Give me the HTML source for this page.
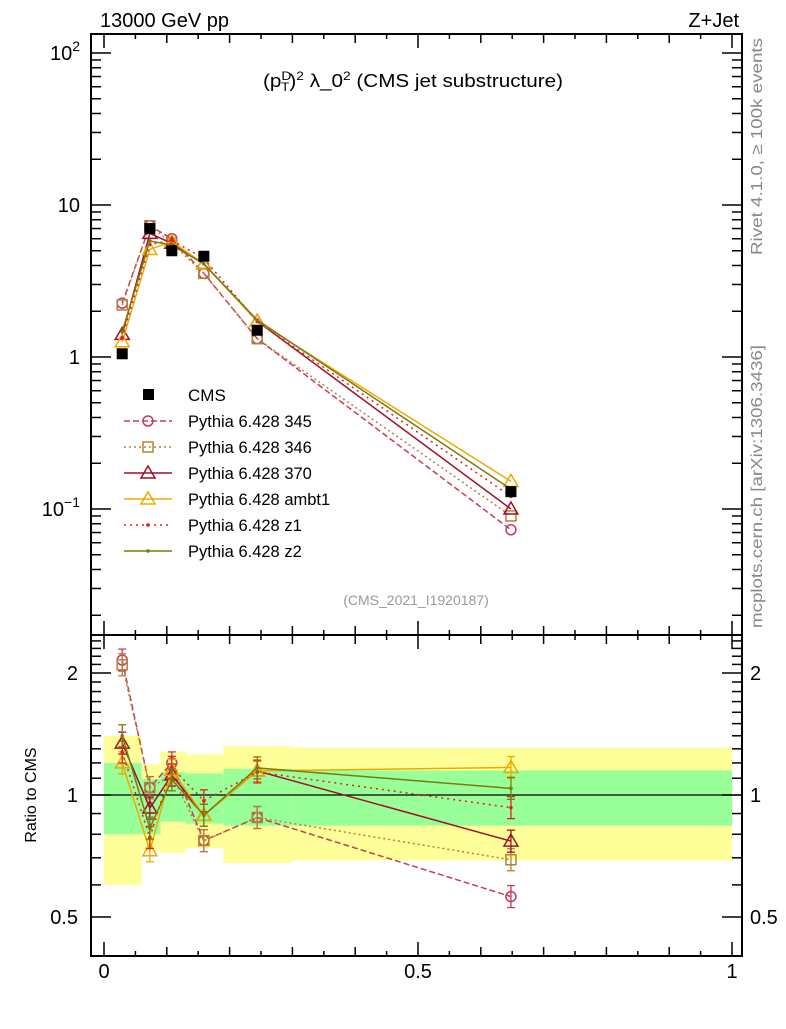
<!DOCTYPE html>
<html><head><meta charset="utf-8"><style>
body{margin:0;background:#fff;}
svg text{font-family:"Liberation Sans",sans-serif;}
</style></head><body>
<svg id="c" width="786" height="1024" xmlns="http://www.w3.org/2000/svg">
<text x="100" y="27" font-size="20">13000 GeV pp</text>
<text x="739" y="27" font-size="20" text-anchor="end">Z+Jet</text>
<text x="263" y="87" font-size="18" textLength="300" lengthAdjust="spacingAndGlyphs">(p<tspan dy="-7" font-size="12">D</tspan><tspan dy="11" dx="-9" font-size="12">T</tspan><tspan dy="-4">)</tspan><tspan dy="-7" font-size="12">2</tspan><tspan dy="7"> λ_0</tspan><tspan dy="-7" font-size="12">2</tspan><tspan dy="7"> (CMS jet substructure)</tspan></text>
<text transform="translate(762,255) rotate(-90)" font-size="16" fill="#888" textLength="217" lengthAdjust="spacingAndGlyphs">Rivet 4.1.0, ≥ 100k events</text>
<text transform="translate(762,628) rotate(-90)" font-size="16" fill="#888" textLength="283" lengthAdjust="spacingAndGlyphs">mcplots.cern.ch [arXiv:1306.3436]</text>
<text x="416" y="605" font-size="14" fill="#999" text-anchor="middle">(CMS_2021_I1920187)</text>
<text transform="translate(36,795) rotate(-90)" font-size="16" text-anchor="middle">Ratio to CMS</text>
<g id="bands"></g><g id="axes"></g><g id="series"></g><g id="legend"></g>
</svg>
<script>
const binEdges=[0,0.06,0.09,0.13,0.19,0.3,1.0];
const xCenters=[0.029,0.073,0.108,0.159,0.244,0.648];
const cmsVals=[1.05,7.0,5.0,4.6,1.5,0.13];
const bandYellowHi=[1.40,1.19,1.28,1.26,1.32,1.31];
const bandYellowLo=[0.60,0.73,0.72,0.74,0.68,0.69];
const bandGreenHi=[1.20,1.095,1.14,1.13,1.16,1.15];
const bandGreenLo=[0.80,0.80,0.86,0.85,0.84,0.84];
const p345=[2.26,7.3,6.0,3.55,1.32,0.073];
const p346=[2.2,7.3,5.6,3.55,1.32,0.09];
const p370=[1.41,6.5,5.6,4.1,1.72,0.10];
const pambt1=[1.26,5.1,5.75,4.1,1.72,0.152];
const pz1=[1.34,5.5,5.85,4.45,1.71,0.121];
const pz2=[1.47,5.8,5.45,4.1,1.75,0.135];
const seriesNames=["Pythia 6.428 345","Pythia 6.428 346","Pythia 6.428 370","Pythia 6.428 ambt1","Pythia 6.428 z1","Pythia 6.428 z2"];
const xTicks=[0,0.5,1];
const mainTicks=[0.1,1,10,100];
const ratioTicks=[0.5,1,2];

const NS="http://www.w3.org/2000/svg";
const L=91,R=742,T=34,MB=635,RB=956;
const X=v=>104+v*628;
const YM=v=>357-152*Math.log10(v);
const YR=v=>795-122*Math.log2(v);
function mk(tag,attrs,parent,name,inter){const e=document.createElementNS(NS,tag);for(const k in attrs)e.setAttribute(k,attrs[k]);


parent.appendChild(e);return e;}
const bands=document.getElementById('bands'),axes=document.getElementById('axes'),ser=document.getElementById('series'),leg=document.getElementById('legend');
for(let i=0;i<cmsVals.length;i++){
 mk('rect',{x:X(binEdges[i]),y:YR(bandYellowHi[i]),width:X(binEdges[i+1])-X(binEdges[i]),height:YR(bandYellowLo[i])-YR(bandYellowHi[i]),fill:'#ffff99'},bands,'band-yellow');
 mk('rect',{x:X(binEdges[i]),y:YR(bandGreenHi[i]),width:X(binEdges[i+1])-X(binEdges[i]),height:YR(bandGreenLo[i])-YR(bandGreenHi[i]),fill:'#99ff99'},bands,'band-green');
}
mk('line',{x1:L,x2:R,y1:YR(1),y2:YR(1),stroke:'#000','stroke-width':1.3},axes,'ratio-unity-line');
mk('rect',{x:L,y:T,width:R-L,height:MB-T,fill:'none',stroke:'#000','stroke-width':2},axes,'main-frame');
mk('rect',{x:L,y:MB,width:R-L,height:RB-MB,fill:'none',stroke:'#000','stroke-width':2},axes,'ratio-frame');
for(let v=0;v<=1.0001;v+=0.05){const major=Math.abs(v*10-Math.round(v*10))<1e-6;const len=Math.abs(v*2-Math.round(v*2))<1e-6?14:(major?9:5);
 [[MB,1],[T,1],[RB,-1],[MB,-1]].forEach(([y,d])=>mk('line',{x1:X(v),x2:X(v),y1:y,y2:y+d*len,stroke:'#000','stroke-width':1.5},axes,'x-tick'));}
xTicks.forEach(v=>{const t=mk('text',{x:X(v),y:978,'font-size':20,'text-anchor':'middle'},axes,'x-tick-label');t.textContent=String(v);});
for(let d=-2;d<=2;d++)for(let m=1;m<=9;m++){const v=m*Math.pow(10,d);const y=YM(v);if(y<T||y>MB)continue;const len=m==1?20:10;
 mk('line',{x1:L,x2:L+len,y1:y,y2:y,stroke:'#000','stroke-width':1.5},axes,'y-tick');
 mk('line',{x1:R,x2:R-len,y1:y,y2:y,stroke:'#000','stroke-width':1.5},axes,'y-tick');}
const mainLab={0.1:['10','−1'],1:['1',''],10:['10',''],100:['10','2']};
mainTicks.forEach(v=>{const t=mk('text',{x:80,y:YM(v)+7,'font-size':20,'text-anchor':'end'},axes,'y-tick-label');
 if(mainLab[v][1]){t.innerHTML=mainLab[v][0]+'<tspan dy="-9" font-size="14">'+mainLab[v][1]+'</tspan>';}else t.textContent=mainLab[v][0];});
for(let v=0.4;v<=2.5;v+=0.1){const y=YR(v);if(y<MB||y>RB)continue;const maj=Math.abs(v-0.5)<1e-6||Math.abs(v-1)<1e-6||Math.abs(v-2)<1e-6;const len=maj?20:10;
 mk('line',{x1:L,x2:L+len,y1:y,y2:y,stroke:'#000','stroke-width':1.5},axes,'ratio-tick');
 mk('line',{x1:R,x2:R-len,y1:y,y2:y,stroke:'#000','stroke-width':1.5},axes,'ratio-tick');}
ratioTicks.forEach(v=>{let t=mk('text',{x:78,y:YR(v)+7,'font-size':20,'text-anchor':'end'},axes,'ratio-tick-label');t.textContent=String(v);
 t=mk('text',{x:750,y:YR(v)+7,'font-size':20},axes,'ratio-tick-label-right');t.textContent=String(v);});
const sdefs=[[p345,'#c83a5c','6,3','circle'],[p346,'#b5803c','2,3','square'],[p370,'#a0102a','','triangle'],[pambt1,'#f0a800','','triangle'],[pz1,'#e02020','2,4','dot'],[pz2,'#7a7a10','','dot']];
function marker(kind,x,y,c,g,name){
 if(kind=='circle')mk('circle',{cx:x,cy:y,r:5,fill:'none',stroke:c,'stroke-width':1.5},g,name);
 else if(kind=='square')mk('rect',{x:x-5,y:y-5,width:10,height:10,fill:'none',stroke:c,'stroke-width':1.5},g,name);
 else if(kind=='triangle')mk('polygon',{points:`${x},${y-7} ${x-7},${y+5} ${x+7},${y+5}`,fill:'none',stroke:c,'stroke-width':1.5},g,name);
 else mk('circle',{cx:x,cy:y,r:1.8,fill:c},g,name);}
sdefs.forEach(([vals,c,dash,kind],si)=>{
 const pm=vals.map((v,i)=>X(xCenters[i])+','+YM(v)).join(' ');
 const pr=vals.map((v,i)=>X(xCenters[i])+','+YR(v/cmsVals[i])).join(' ');
 mk('polyline',{points:pm,fill:'none',stroke:c,'stroke-width':1.5,'stroke-dasharray':dash},ser,'series-line-main');
 mk('polyline',{points:pr,fill:'none',stroke:c,'stroke-width':1.5,'stroke-dasharray':dash},ser,'series-line-ratio');
 vals.forEach((v,i)=>{const x=X(xCenters[i]),yr=YR(v/cmsVals[i]);
  mk('line',{x1:x,x2:x,y1:yr-11,y2:yr+11,stroke:c,'stroke-width':1.3},ser,'ratio-error-bar');
  mk('line',{x1:x-4,x2:x+4,y1:yr-11,y2:yr-11,stroke:c,'stroke-width':1.3},ser,'ratio-error-cap');
  mk('line',{x1:x-4,x2:x+4,y1:yr+11,y2:yr+11,stroke:c,'stroke-width':1.3},ser,'ratio-error-cap');
  marker(kind,x,YM(v),c,ser,'series-marker');marker(kind,x,yr,c,ser,'ratio-marker');});
});
cmsVals.forEach((v,i)=>mk('rect',{x:X(xCenters[i])-5.5,y:YM(v)-5.5,width:11,height:11,fill:'#000'},ser,'cms-data-point'));
mk('rect',{x:143,y:389,width:11,height:11,fill:'#000'},leg,'legend-cms-marker');
let t=mk('text',{x:188,y:401,'font-size':17},leg,'legend-cms-label');t.textContent='CMS';
sdefs.forEach(([vals,c,dash,kind],si)=>{const y=421+26*si;
 mk('line',{x1:124,x2:172,y1:y,y2:y,stroke:c,'stroke-width':1.5,'stroke-dasharray':dash},leg,'legend-line');
 marker(kind,148,y,c,leg,'legend-marker');
 const tt=mk('text',{x:188,y:y+6,'font-size':16.5},leg,'legend-label');tt.textContent=seriesNames[si];});
</script>
</body></html>
